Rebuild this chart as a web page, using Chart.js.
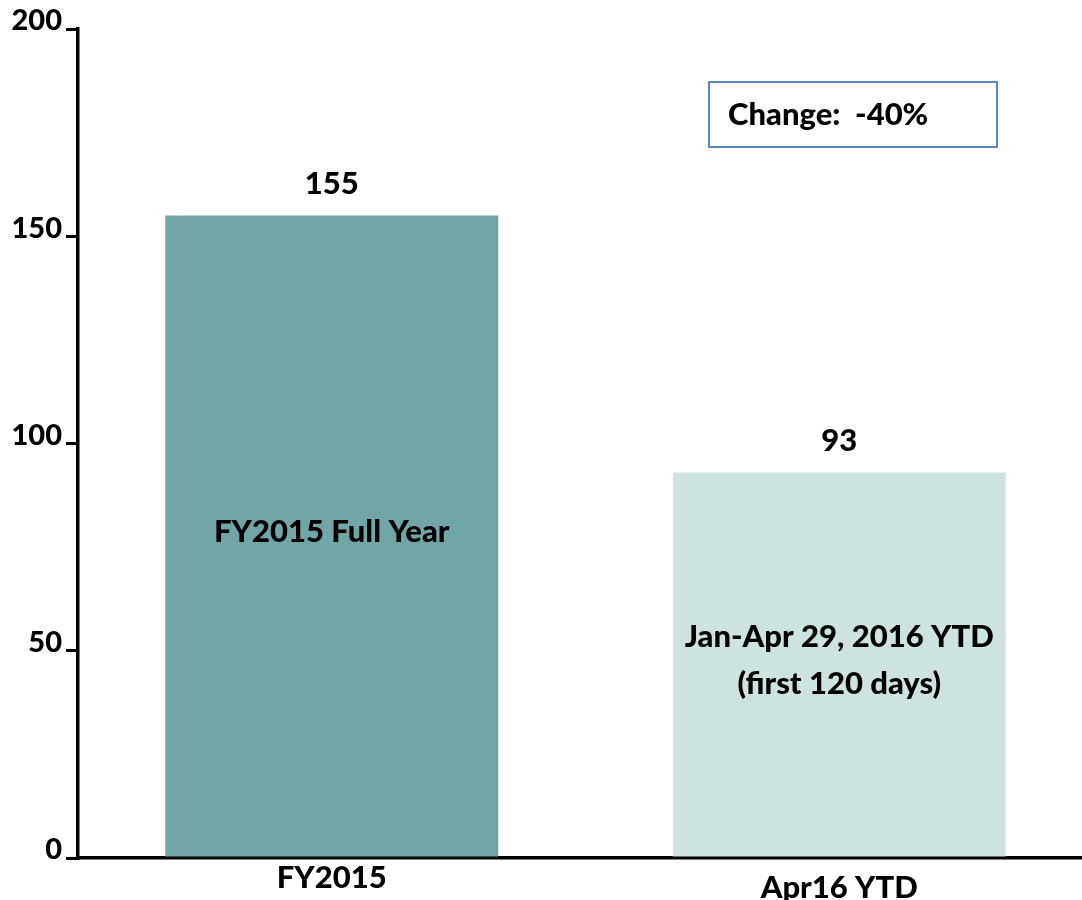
<!DOCTYPE html>
<html>
<head>
<meta charset="utf-8">
<script src="https://cdn.jsdelivr.net/npm/chart.js@4.4.1/dist/chart.umd.min.js"></script>
<style>
  html, body { margin: 0; padding: 0; background: #fff; overflow: hidden; }
  #wrap { position: relative; width: 1093px; height: 900px; }
</style>
</head>
<body>
<div id="wrap"><canvas id="c" width="1093" height="900"></canvas></div>
<script>
// ---- data ----
const categories = ['FY2015', 'Apr16 YTD'];
const values = [155, 93];
const barColors = ['#72A6A6', '#CDE3E0'];
const insideLabels = [['FY2015 Full Year'], ['Jan-Apr 29, 2016 YTD', '(first 120 days)']];
const yTicks = [0, 50, 100, 150, 200];
const changeText = 'Change:  -40%';

const FONT = 'Lato, "Open Sans", sans-serif';
const SIZE = 31;
const WEIGHT = '900';

const labelPlugin = {
  id: 'labelPlugin',
  afterDatasetsDraw(chart) {
    const ctx = chart.ctx;
    const meta = chart.getDatasetMeta(0);
    const xs = chart.scales.x;
    ctx.save();
    ctx.fillStyle = '#000';
    ctx.font = WEIGHT + ' ' + SIZE + 'px ' + FONT;
    ctx.textAlign = 'center';
    ctx.textBaseline = 'alphabetic';
    meta.data.forEach((bar, i) => {
      ctx.fillText(String(values[i]), bar.x, bar.y - 22);
      const lines = insideLabels[i];
      const mid = (bar.y + bar.base) / 2;
      const lh = 47;
      const first = mid + 6 - (lines.length - 1) * lh / 2;
      lines.forEach((t, j) => ctx.fillText(t, bar.x, first + j * lh));
      const cx = xs.getPixelForTick(i);
      ctx.fillText(categories[i], cx, chart.chartArea.bottom + (i === 0 ? 30 : 40));
    });
    ctx.strokeStyle = '#5B87C4';
    ctx.lineWidth = 2;
    ctx.strokeRect(709, 82, 288, 65);
    ctx.textAlign = 'left';
    ctx.fillText(changeText, 728, 125);
    ctx.restore();
  }
};

new Chart(document.getElementById('c'), {
  type: 'bar',
  data: {
    labels: categories,
    datasets: [{
      data: values,
      backgroundColor: barColors,
      borderWidth: 0,
      barPercentage: 0.656,
      categoryPercentage: 1.0
    }]
  },
  options: {
    responsive: false,
    animation: false,
    events: [],
    layout: { padding: { top: 29, right: 0, bottom: 0, left: 0 } },
    plugins: { legend: { display: false }, tooltip: { enabled: false } },
    scales: {
      x: {
        grid: { display: false },
        ticks: { display: false },
        border: { display: true, color: '#000', width: 3.5 },
        afterFit(scale) { scale.height = 42; }
      },
      y: {
        min: 0, max: 200,
        afterBuildTicks(scale) { scale.ticks = yTicks.map(v => ({ value: v })); },
        grid: { drawOnChartArea: false, drawTicks: true, tickLength: 12, color: '#000', lineWidth: 3 },
        border: { display: true, color: '#000', width: 3.5 },
        ticks: {
          color: '#000',
          padding: 4,
          labelOffset: -8,
          font: { family: FONT, size: 29, weight: WEIGHT }
        },
        afterFit(scale) { scale.width = 78; }
      }
    }
  },
  plugins: [labelPlugin]
});
</script>
</body>
</html>
